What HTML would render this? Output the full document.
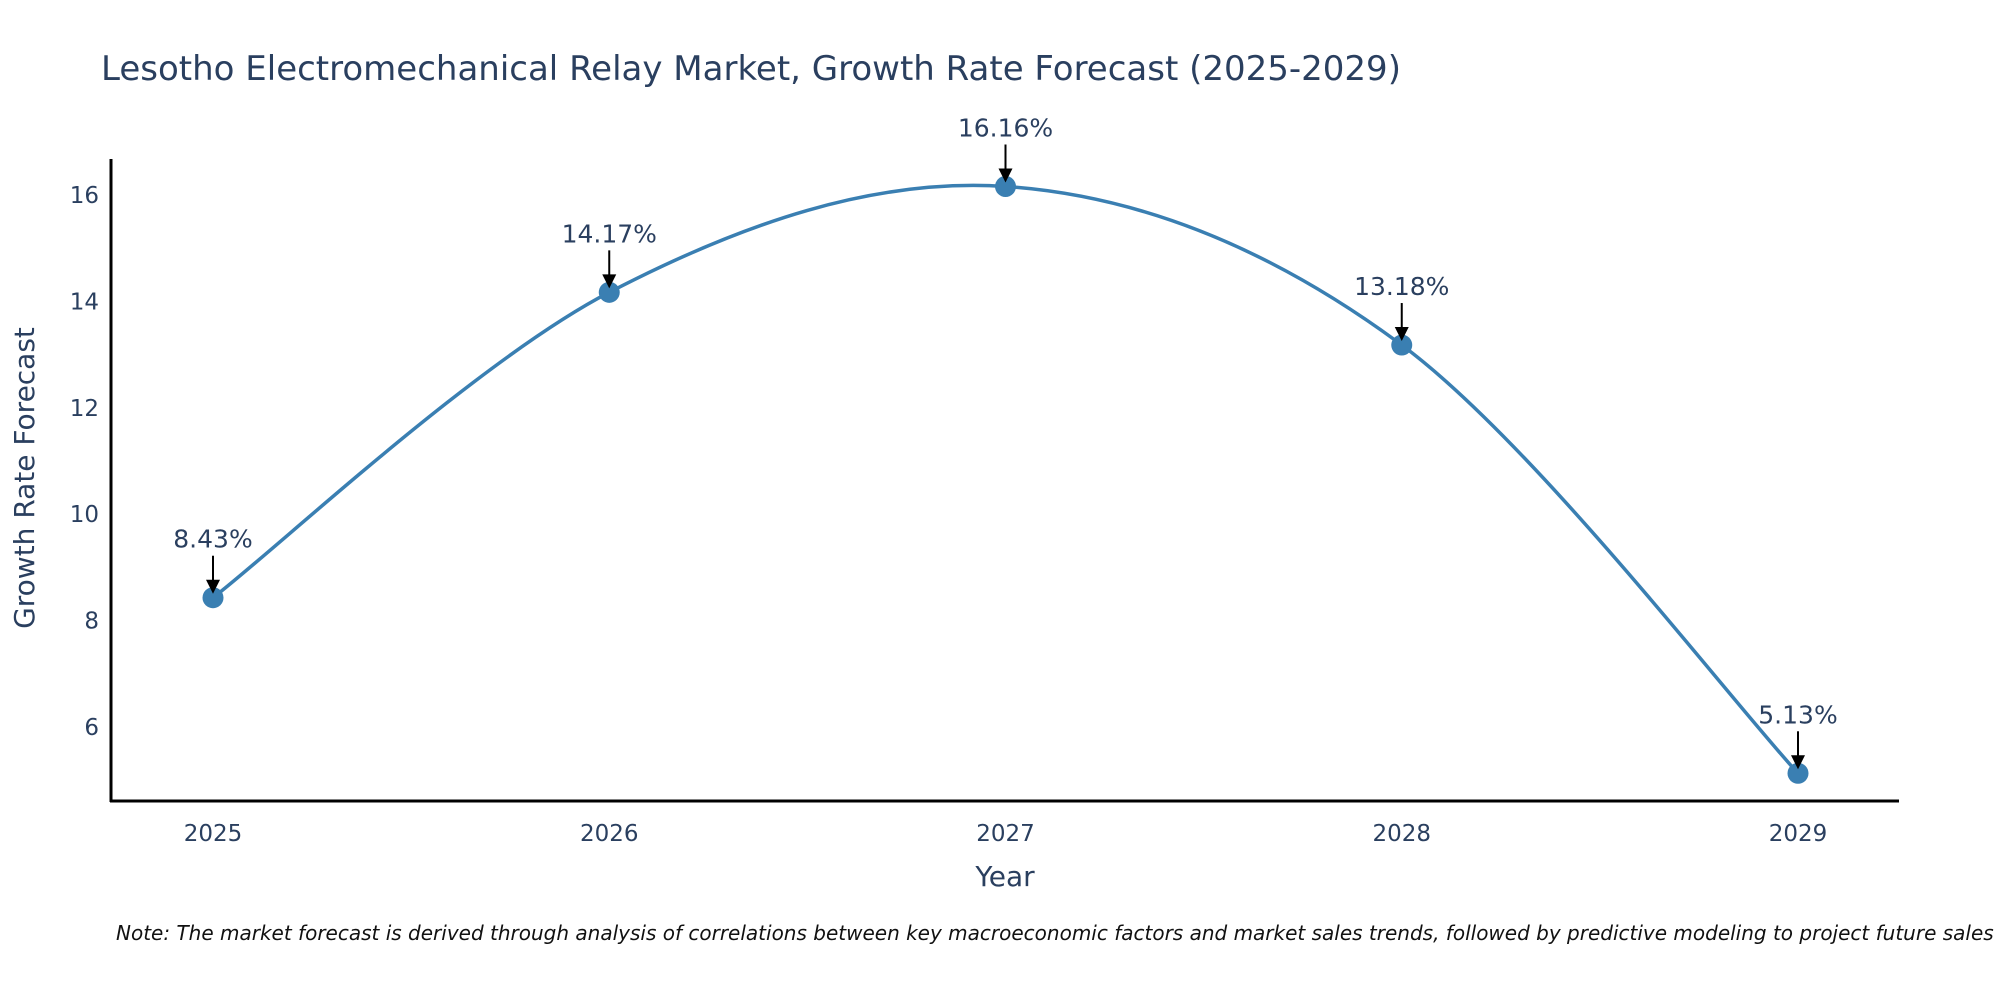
<!DOCTYPE html>
<html><head><meta charset="utf-8"><style>
body{margin:0;background:#fff;}
svg{display:block;font-family:"DejaVu Sans","Liberation Sans",sans-serif;}
</style></head><body>
<svg id="chart" width="2000" height="1000" xmlns="http://www.w3.org/2000/svg">
<text x="101" y="80" font-size="34" fill="#2a3f5f">Lesotho Electromechanical Relay Market, Growth Rate Forecast (2025-2029)</text>
<g id="axes"></g>
<g id="marks"></g>
<text x="1005" y="886" font-size="28" fill="#2a3f5f" text-anchor="middle">Year</text>
<text transform="translate(34,478) rotate(-90)" font-size="28" fill="#2a3f5f" text-anchor="middle">Growth Rate Forecast</text>
<text x="116" y="940" font-size="20" font-style="italic" fill="#111">Note: The market forecast is derived through analysis of correlations between key macroeconomic factors and market sales trends, followed by predictive modeling to project future sales</text>
</svg>
<script>
const years=[2025,2026,2027,2028,2029];
const values=[8.43,14.17,16.16,13.18,5.13];
const labels=["8.43%","14.17%","16.16%","13.18%","5.13%"];
const yTicks=[6,8,10,12,14,16];
const NS="http://www.w3.org/2000/svg";
const L=111,R=1899,T=159,B=801;
const xs=y=>213+(y-2025)*(1798-213)/4;
const ys=v=>195+(16-v)*(727-195)/10;
function mk(tag,attrs,parent){const e=document.createElementNS(NS,tag);for(const k in attrs)e.setAttribute(k,attrs[k]);parent.appendChild(e);return e;}
const ax=document.getElementById('axes'),mg=document.getElementById('marks');
let e=mk('line',{x1:L,y1:T,x2:L,y2:B+1,stroke:'#000','stroke-width':3},ax);


e=mk('line',{x1:L-1,y1:B,x2:R,y2:B,stroke:'#000','stroke-width':3},ax);


yTicks.forEach(t=>{const tx=mk('text',{x:L-12,y:ys(t)+8,'font-size':23,fill:'#2a3f5f','text-anchor':'end'},ax);tx.textContent=t;

});
years.forEach(y=>{const tx=mk('text',{x:xs(y),y:B+40,'font-size':23,fill:'#2a3f5f','text-anchor':'middle'},ax);tx.textContent=y;

});
const P=years.map((y,i)=>[xs(y),ys(values[i])]);
let d='M'+P[0][0]+','+P[0][1];
for(let i=0;i<P.length-1;i++){const p0=P[Math.max(0,i-1)],p1=P[i],p2=P[i+1],p3=P[Math.min(P.length-1,i+2)];const s=1/6;
d+=` C${p1[0]+(p2[0]-p0[0])*s},${p1[1]+(p2[1]-p0[1])*s} ${p2[0]-(p3[0]-p1[0])*s},${p2[1]-(p3[1]-p1[1])*s} ${p2[0]},${p2[1]}`;}
e=mk('path',{d:d,fill:'none',stroke:'#3a7fb2','stroke-width':3.5},mg);


P.forEach((p,i)=>{
const c=mk('circle',{cx:p[0],cy:p[1],r:10.5,fill:'#3a7fb2'},mg);


const a=mk('line',{x1:p[0],y1:p[1]-42,x2:p[0],y2:p[1]-16,stroke:'#000','stroke-width':2},mg);


const h=mk('polygon',{points:`${p[0]-7},${p[1]-18} ${p[0]+7},${p[1]-18} ${p[0]},${p[1]-4}`,fill:'#000'},mg);


const t=mk('text',{x:p[0],y:p[1]-50,'font-size':25,fill:'#2a3f5f','text-anchor':'middle'},mg);t.textContent=labels[i];


});
</script>
</body></html>
